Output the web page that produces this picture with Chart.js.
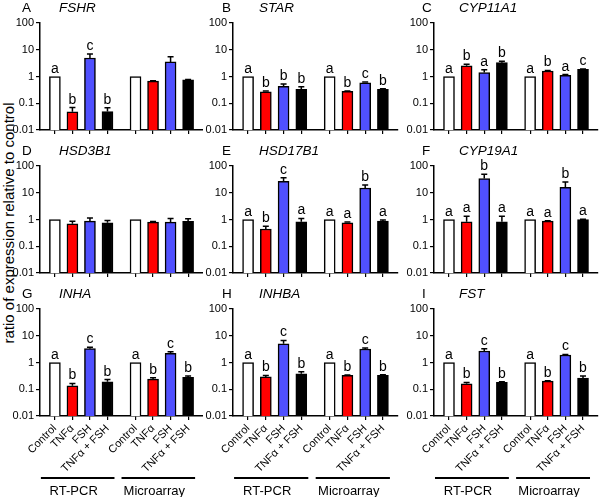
<!DOCTYPE html>
<html>
<head>
<meta charset="utf-8">
<script src="https://cdn.jsdelivr.net/npm/chart.js@4.4.1/dist/chart.umd.min.js"></script>
<style>
  body { margin: 0; background: #fff; font-family: "Liberation Sans", Arial, sans-serif; }
  #wrap { position: relative; width: 600px; height: 497px; overflow: hidden; }
  #wrap canvas { position: absolute; }
  #ytitle {
    position: absolute; left: -121px; top: 214px; width: 260px; height: 18px;
    line-height: 18px; font-size: 15px; text-align: center; color: #000;
    transform: rotate(-90deg); white-space: nowrap;
  }
</style>
</head>
<body>
<div id="wrap">
  <div id="ytitle">ratio of expression relative to control</div>
</div>
<script>
//Categories and groups
const treatments = ["Control", "TNFα", "FSH", "TNFα + FSH"];
const methods = ["RT-PCR", "Microarray"];
const yTicks = [0.01, 0.1, 1, 10, 100];

//Means (RT-PCR x4 then Microarray x4), upper error (SEM) and letters
const fshrMean = [1, 0.048, 4.9, 0.049, 1, 0.67, 3.5, 0.75];
const fshrErr = [0, 0.021, 2.0, 0.019, 0, 0.02, 2.0, 0.03];
const fshrSig = ["a", "b", "c", "b", "", "", "", ""];

const starMean = [1, 0.27, 0.43, 0.33, 1, 0.28, 0.58, 0.33];
const starErr = [0, 0.02, 0.1, 0.08, 0, 0.01, 0.04, 0.02];
const starSig = ["a", "b", "b", "b", "a", "b", "c", "b"];

const cyp11Mean = [1, 2.5, 1.4, 3.3, 1, 1.6, 1.1, 1.85];
const cyp11Err = [0, 0.4, 0.4, 0.4, 0, 0.08, 0.08, 0.05];
const cyp11Sig = ["a", "b", "a", "b", "a", "b", "a", "c"];

const hsd3Mean = [1, 0.69, 0.87, 0.75, 1, 0.8, 0.8, 0.86];
const hsd3Err = [0, 0.17, 0.28, 0.17, 0, 0.05, 0.29, 0.2];
const hsd3Sig = ["", "", "", "", "", "", "", ""];

const hsd17Mean = [1, 0.44, 27, 0.82, 1, 0.75, 15, 0.87];
const hsd17Err = [0, 0.12, 9, 0.27, 0, 0.05, 4.5, 0.08];
const hsd17Sig = ["a", "b", "c", "a", "a", "a", "b", "a"];

const cyp19Mean = [1, 0.82, 34, 0.82, 1, 0.87, 16, 1.0];
const cyp19Err = [0, 0.5, 15, 0.5, 0, 0.03, 9, 0.02];
const cyp19Sig = ["a", "a", "b", "a", "a", "a", "b", "a"];

const inhaMean = [1, 0.135, 3.3, 0.19, 1, 0.24, 2.2, 0.28];
const inhaErr = [0, 0.03, 0.4, 0.04, 0, 0.03, 0.3, 0.03];
const inhaSig = ["a", "b", "c", "b", "a", "b", "c", "b"];

const inhbaMean = [1, 0.29, 5.0, 0.38, 1, 0.33, 3.2, 0.33];
const inhbaErr = [0, 0.04, 1.7, 0.07, 0, 0.01, 0.3, 0.02];
const inhbaSig = ["a", "b", "c", "b", "a", "b", "c", "b"];

const fstMean = [1, 0.16, 2.7, 0.18, 1, 0.2, 1.9, 0.26];
const fstErr = [0, 0.02, 0.6, 0.01, 0, 0.01, 0.1, 0.05];
const fstSig = ["a", "b", "c", "b", "a", "b", "c", "b"];

const panels = [
    { letter: "A", gene: "FSHR", mean: fshrMean, err: fshrErr, sig: fshrSig },
    { letter: "B", gene: "STAR", mean: starMean, err: starErr, sig: starSig },
    { letter: "C", gene: "CYP11A1", mean: cyp11Mean, err: cyp11Err, sig: cyp11Sig },
    { letter: "D", gene: "HSD3B1", mean: hsd3Mean, err: hsd3Err, sig: hsd3Sig },
    { letter: "E", gene: "HSD17B1", mean: hsd17Mean, err: hsd17Err, sig: hsd17Sig },
    { letter: "F", gene: "CYP19A1", mean: cyp19Mean, err: cyp19Err, sig: cyp19Sig },
    { letter: "G", gene: "INHA", mean: inhaMean, err: inhaErr, sig: inhaSig },
    { letter: "H", gene: "INHBA", mean: inhbaMean, err: inhbaErr, sig: inhbaSig },
    { letter: "I", gene: "FST", mean: fstMean, err: fstErr, sig: fstSig },
];

//Layout
const FONT = '"Liberation Sans", Arial, sans-serif';
const barColors = ["#ffffff", "#ff0000", "#5050ff", "#000000"];
const GROUP_STEP = 4.6;
const COL_LEFT = [0, 200, 400];
const CANVAS_W = [203, 200, 200];
const Y_AXIS_W = [40, 33, 34];
const PAD_RIGHT = [0, 2, 2];
const ROW_TOP = [0, 143, 286];
const CANVAS_H = [143, 143, 211];
const PLOT_TOP = 23;
const PLOT_H = 107;

Chart.defaults.font.family = FONT;
Chart.defaults.color = "#000";

//Plugin: panel title, error bars, letters and (bottom row) method brackets
const panelPlugin = (p, row) => ({
    id: "panelExtras",
    afterDatasetsDraw(chart) {
        const { ctx, scales } = chart;
        const y = scales.y;
        const meta = chart.getDatasetMeta(0);
        ctx.save();
        ctx.strokeStyle = "#000";
        ctx.fillStyle = "#000";
        ctx.lineWidth = 1.5;
        meta.data.forEach((bar, i) => {
            let top = bar.y;
            if (p.err[i] > 0) {
                top = y.getPixelForValue(p.mean[i] + p.err[i]);
                ctx.beginPath();
                ctx.moveTo(bar.x, bar.y);
                ctx.lineTo(bar.x, top);
                ctx.moveTo(bar.x - 3, top);
                ctx.lineTo(bar.x + 3, top);
                ctx.stroke();
            }
            if (p.sig[i]) {
                ctx.font = "14px " + FONT;
                ctx.textAlign = "center";
                ctx.textBaseline = "alphabetic";
                ctx.fillText(p.sig[i], bar.x, top - 4);
            }
        });
        ctx.restore();
    },
    afterDraw(chart) {
        const { ctx, scales } = chart;
        ctx.save();
        ctx.fillStyle = "#000";
        ctx.textBaseline = "alphabetic";
        ctx.textAlign = "left";
        ctx.font = "13.5px " + FONT;
        ctx.fillText(p.letter, 22, 12);
        ctx.font = "italic 13.5px " + FONT;
        ctx.fillText(p.gene, 59, 12);

        if (row === 2) {
            const x = scales.x;
            ctx.strokeStyle = "#000";
            ctx.lineWidth = 2;
            ctx.font = "13px " + FONT;
            ctx.textAlign = "center";
            ctx.textBaseline = "alphabetic";
            methods.forEach((m, g) => {
                const x0 = x.getPixelForValue(g * GROUP_STEP) - 14;
                const x1 = x.getPixelForValue(g * GROUP_STEP + treatments.length - 1) + 7;
                ctx.beginPath();
                ctx.moveTo(x0, 192);
                ctx.lineTo(x1, 192);
                ctx.stroke();
                ctx.fillText(m, (x0 + x1) / 2 - 4, 208.5);
            });
        }
        ctx.restore();
    },
});

const wrap = document.getElementById("wrap");

panels.forEach((p, idx) => {
    const col = idx % 3;
    const row = Math.floor(idx / 3);

    const cv = document.createElement("canvas");
    cv.width = CANVAS_W[col];
    cv.height = CANVAS_H[row];
    cv.style.left = COL_LEFT[col] + "px";
    cv.style.top = ROW_TOP[row] + "px";
    wrap.appendChild(cv);

    const xVals = [];
    const xLabels = [];
    methods.forEach((m, g) => {
        treatments.forEach((t, i) => {
            xVals.push(g * GROUP_STEP + i);
            xLabels.push(t);
        });
    });

    new Chart(cv, {
        type: "bar",
        data: {
            datasets: [
                {
                    data: xVals.map((xv, i) => ({ x: xv, y: p.mean[i] })),
                    backgroundColor: xVals.map((_, i) => barColors[i % treatments.length]),
                    borderColor: "#000",
                    borderWidth: 1.5,
                    borderSkipped: "start",
                    barThickness: 11,
                },
            ],
        },
        options: {
            responsive: false,
            animation: false,
            layout: { padding: { top: PLOT_TOP, left: 0, right: PAD_RIGHT[col], bottom: 0 } },
            plugins: { legend: { display: false }, tooltip: { enabled: false } },
            scales: {
                x: {
                    type: "linear",
                    offset: false,
                    min: -0.85,
                    max: GROUP_STEP + treatments.length - 1 + 0.85,
                    afterBuildTicks: (s) => {
                        s.ticks = xVals.map((v) => ({ value: v }));
                    },
                    afterFit: (s) => {
                        s.height = CANVAS_H[row] - PLOT_TOP - PLOT_H;
                    },
                    ticks: {
                        display: row === 2,
                        autoSkip: false,
                        minRotation: 45,
                        maxRotation: 45,
                        padding: 2,
                        font: { size: 11 },
                        callback: (v, i) => xLabels[i],
                    },
                    grid: {
                        display: true,
                        offset: false,
                        drawOnChartArea: false,
                        drawTicks: true,
                        tickLength: 4,
                        color: "#000",
                        lineWidth: 1.2,
                    },
                    border: { display: true, color: "#000", width: 1.5 },
                },
                y: {
                    type: "logarithmic",
                    min: 0.01,
                    max: 100,
                    afterBuildTicks: (s) => {
                        s.ticks = yTicks.map((v) => ({ value: v }));
                    },
                    afterFit: (s) => {
                        s.width = Y_AXIS_W[col];
                    },
                    ticks: {
                        padding: 2,
                        font: { size: 11 },
                        callback: (v) => String(v),
                    },
                    grid: {
                        display: true,
                        drawOnChartArea: false,
                        drawTicks: true,
                        tickLength: 4,
                        color: "#000",
                        lineWidth: 1.2,
                    },
                    border: { display: true, color: "#000", width: 1.5 },
                },
            },
        },
        plugins: [panelPlugin(p, row)],
    });
});
</script>
</body>
</html>
